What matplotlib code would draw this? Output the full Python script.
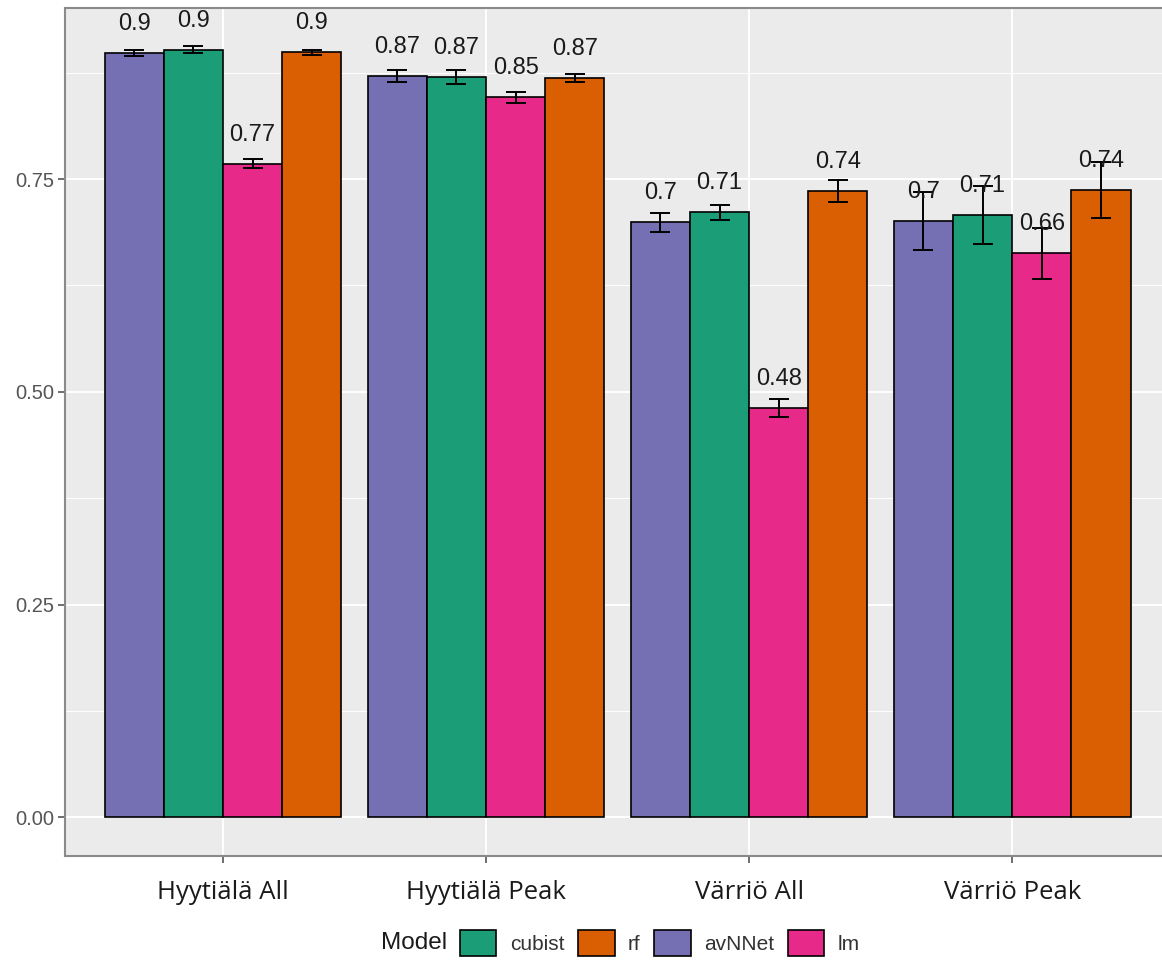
import matplotlib
matplotlib.use("Agg")
import matplotlib.pyplot as plt
from matplotlib.patches import Patch
import numpy as np

groups = ["Hyytiälä All", "Hyytiälä Peak", "Värriö All", "Värriö Peak"]
models = ["avNNet", "cubist", "lm", "rf"]
values = {
    "avNNet": [0.898, 0.871, 0.699, 0.701],
    "cubist": [0.902, 0.870, 0.711, 0.708],
    "lm":     [0.768, 0.846, 0.481, 0.663],
    "rf":     [0.899, 0.869, 0.736, 0.737],
}
errors = {
    "avNNet": [0.003, 0.0066, 0.011, 0.034],
    "cubist": [0.004, 0.0086, 0.0086, 0.034],
    "lm":     [0.005, 0.0062, 0.0106, 0.030],
    "rf":     [0.003, 0.0045, 0.013, 0.033],
}
colors = {"avNNet": "#7570B3", "cubist": "#1B9E77", "lm": "#E7298A", "rf": "#D95F02"}
legend_order = ["cubist", "rf", "avNNet", "lm"]
yticks = [0.0, 0.25, 0.50, 0.75]
ytick_labels = ["0.00", "0.25", "0.50", "0.75"]

W, H = 1162, 961
fig = plt.figure(figsize=(W / 100, H / 100), dpi=100)
left = 65.2 / W
right = 1170 / W
bottom = (H - 856) / H
top = (H - 8) / H
ax = fig.add_axes([left, bottom, right - left, top - bottom])
ax.set_facecolor("#EBEBEB")

x = np.arange(1, len(groups) + 1)
bw = 0.9 / len(models)
for i, m in enumerate(models):
    pos = x + (i - 1.5) * bw
    ax.bar(pos, values[m], width=bw, color=colors[m], edgecolor="black",
           linewidth=1.2, zorder=3)
    ax.errorbar(pos, values[m], yerr=errors[m], fmt="none", ecolor="black",
                elinewidth=1.4, capsize=7, capthick=1.4, zorder=4)
    for px, v in zip(pos, values[m]):
        ax.annotate(f"{round(v, 2):g}", (px, v), xytext=(0, 29),
                    textcoords="offset pixels", ha="center", va="center",
                    fontsize=17, family="Liberation Sans", color="#1a1a1a",
                    zorder=5)

ax.set_xlim(0.4, 4.6)
ax.set_ylim(-0.0453, 0.9509)
ax.set_yticks(yticks)
ax.set_yticklabels(ytick_labels, family="Liberation Sans", fontsize=14.5,
                   color="#555555")
ax.set_yticks([0.125, 0.375, 0.625, 0.875], minor=True)
ax.set_xticks(x)
ax.set_xticklabels(groups, family="Open Sans", fontsize=18.5, color="#1a1a1a")
ax.tick_params(axis="y", which="major", length=5, width=1.2, color="#555555", pad=3)
ax.tick_params(axis="y", which="minor", length=0)
ax.tick_params(axis="x", length=5, width=1.2, color="#555555", pad=12)

ax.grid(True, which="major", color="white", linewidth=1.4, zorder=0)
ax.grid(True, which="minor", axis="y", color="white", linewidth=0.7, zorder=0)
ax.set_axisbelow(True)
for s in ["left", "top", "bottom"]:
    ax.spines[s].set_color("#8a8a8a")
    ax.spines[s].set_linewidth(1.5)
ax.spines["right"].set_visible(False)

handles = [Patch(facecolor=colors[m], edgecolor="black", linewidth=1.2, label=m)
           for m in legend_order]
leg = fig.legend(handles=handles, loc="center", bbox_to_anchor=(660 / W, 1 - 943 / H),
                 ncol=4, frameon=False, handlelength=1.75, handleheight=1.6,
                 handletextpad=0.65, columnspacing=0.65,
                 prop={"family": "Liberation Sans", "size": 15})
for t in leg.get_texts():
    t.set_color("#333333")
fig.text(414 / W, 1 - 943 / H, "Model", ha="center", va="center",
         family="Liberation Sans", fontsize=17.5, color="#1a1a1a")

fig.savefig("out.png", dpi=100)
